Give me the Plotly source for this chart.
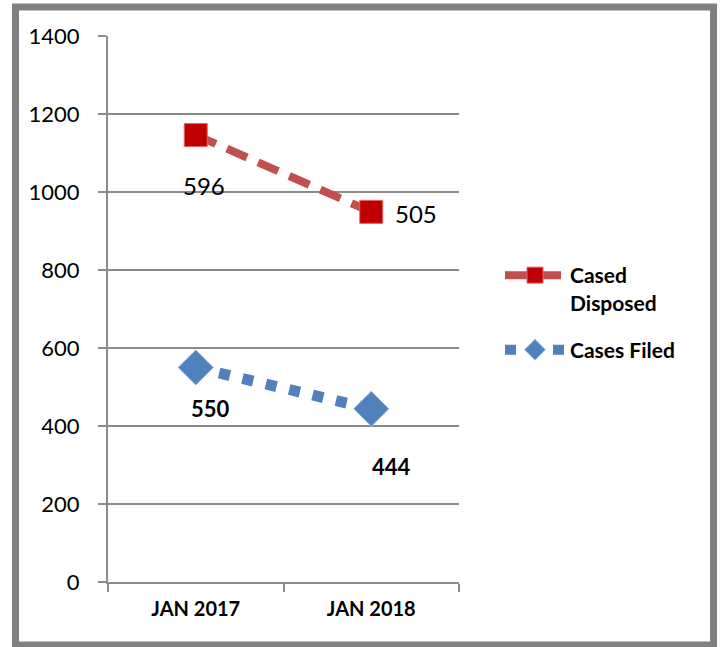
import plotly.graph_objects as go

categories = ["JAN 2017", "JAN 2018"]
cases_filed = [550, 444]
cases_disposed = [596, 505]
y_ticks = [0, 200, 400, 600, 800, 1000, 1200, 1400]

stacked_disposed = [f + d for f, d in zip(cases_filed, cases_disposed)]

FONT = "Lato, 'Liberation Sans', sans-serif"

fig = go.Figure()
fig.add_trace(go.Scatter(
    x=categories, y=stacked_disposed, name="<b>Cased<br>Disposed</b>",
    legendgroup="d", mode="lines+markers",
    line=dict(color="#C0504D", width=8, dash="22px,12px"),
    marker=dict(symbol="square", size=23, color="#C00000",
                line=dict(color="#E06666", width=1)),
))
fig.add_trace(go.Scatter(
    x=categories, y=cases_filed, name="<b>Cases Filed</b>",
    legendgroup="f", mode="lines+markers",
    line=dict(color="#4F81BD", width=11, dash="11px,13px"),
    marker=dict(symbol="diamond", size=27, color="#4F81BD",
                line=dict(color="#9DB8DC", width=1)),
))

ann = []
offs_d = [(8, -50), (45, -2)]
offs_f = [(15, -41), (20, -58)]
for i, c in enumerate(categories):
    ann.append(dict(x=c, y=stacked_disposed[i], text=str(cases_disposed[i]),
                    showarrow=False, xshift=offs_d[i][0], yshift=offs_d[i][1],
                    font=dict(size=24, color="black", family=FONT)))
    ann.append(dict(x=c, y=cases_filed[i], text="<b>%d</b>" % cases_filed[i],
                    showarrow=False, xshift=offs_f[i][0], yshift=offs_f[i][1],
                    font=dict(size=22, color="black", family=FONT)))

L, R, T, B = 108, 263, 36, 65
W, H = 722, 647
pw, ph = W - L - R, H - T - B

def px(x):
    return (x - L) / pw

def py(y):
    return (H - y - B) / ph

fig.update_layout(
    width=W, height=H,
    margin=dict(l=L, r=R, t=T, b=B, pad=0),
    paper_bgcolor="white", plot_bgcolor="white",
    font=dict(family=FONT, color="black"),
    showlegend=True,
    legend=dict(x=px(500), y=py(255), xanchor="left", yanchor="top",
                font=dict(size=21, family=FONT, color="black"),
                itemwidth=60, tracegroupgap=17, valign="top",
                bgcolor="rgba(0,0,0,0)"),
    annotations=ann,
    shapes=[dict(type="rect", xref="paper", yref="paper",
                 x0=px(15.5), x1=px(713.5), y0=py(645), y1=py(7),
                 line=dict(color="#808080", width=7), layer="below")],
    xaxis=dict(range=[-0.5, 1.5], showgrid=False, showline=True,
               linecolor="#8C8C8C", linewidth=2, ticks="outside",
               tickson="boundaries", ticklen=8, tickcolor="#8C8C8C", tickwidth=2,
               tickfont=dict(size=20, family=FONT, color="black"),
               ticklabelstandoff=8,
               tickprefix="<b>", ticksuffix="</b>", fixedrange=True),
    yaxis=dict(range=[0, 1400], tickvals=y_ticks, showgrid=True,
               gridcolor="#8C8C8C", gridwidth=2, showline=True,
               linecolor="#8C8C8C", linewidth=2, ticks="outside",
               ticklen=8, tickcolor="#8C8C8C", tickwidth=2, zeroline=False,
               ticklabelstandoff=14,
               tickfont=dict(size=22, family=FONT, color="black"),
               fixedrange=True),
)

fig.write_html("out.html", config={"displayModeBar": False},
               post_script="document.body.style.margin='0';")
